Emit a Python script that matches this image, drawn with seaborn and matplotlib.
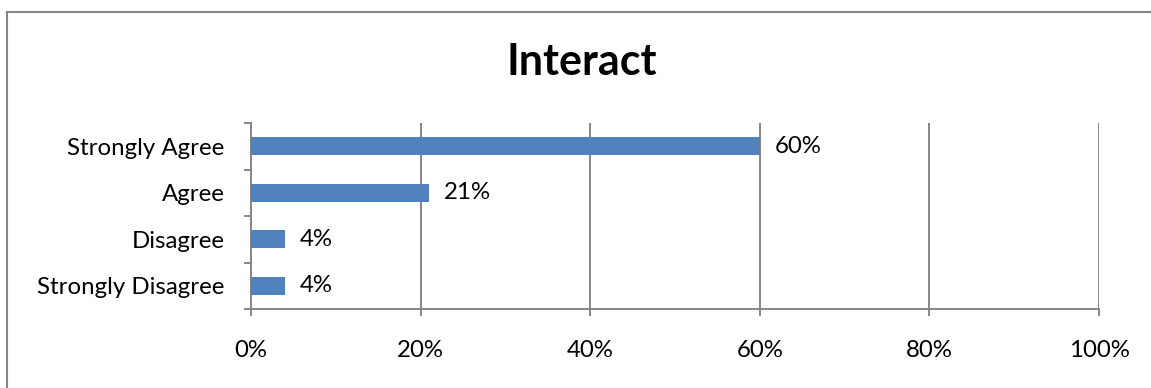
import matplotlib
matplotlib.use("Agg")
import matplotlib.pyplot as plt
import matplotlib.patches as mpatches
from matplotlib.ticker import FixedLocator, PercentFormatter
import seaborn as sns
import pandas as pd

categories = ["Strongly Agree", "Agree", "Disagree", "Strongly Disagree"]
values = [60, 21, 4, 4]
value_labels = ["60%", "21%", "4%", "4%"]
x_ticks = [0, 20, 40, 60, 80, 100]
title = "Interact"

sns.set_theme(style="white")
plt.rcParams["font.family"] = ["Lato", "DejaVu Sans"]

W, H = 1151, 388
fig = plt.figure(figsize=(W / 100, H / 100), dpi=100)
ax = fig.add_axes([251 / W, 1 - 309 / H, (1099 - 251) / W, (309 - 123) / H])

df = pd.DataFrame({"category": categories, "value": values})
sns.barplot(data=df, x="value", y="category", orient="h", color="#4F81BD",
            saturation=1, width=0.39, ax=ax, zorder=3, linewidth=0)

grey = "#868686"
ax.set_xlim(0, 100)
ax.set_ylim(3.5, -0.5)
ax.xaxis.set_major_locator(FixedLocator(x_ticks))
ax.xaxis.set_major_formatter(PercentFormatter(decimals=0))
ax.grid(axis="x", color=grey, linewidth=1.4, zorder=0)
ax.grid(axis="y", visible=False)
for s in ["top", "right"]:
    ax.spines[s].set_visible(False)
for s in ["left", "bottom"]:
    ax.spines[s].set_color(grey)
    ax.spines[s].set_linewidth(1.4)

fs = 17.3
ax.set_xlabel("")
ax.set_ylabel("")
ax.tick_params(axis="x", which="major", direction="out", length=5, width=1.4,
               color=grey, pad=17, labelsize=fs, labelcolor="black", bottom=True)
ax.tick_params(axis="y", which="major", length=0, pad=19, labelsize=fs,
               labelcolor="black")
ax.yaxis.set_minor_locator(FixedLocator([-0.5, 0.5, 1.5, 2.5, 3.5]))
ax.tick_params(axis="y", which="minor", direction="out", length=5, width=1.4,
               color=grey, left=True)

ax.bar_label(ax.containers[0], labels=value_labels, padding=11, fontsize=fs,
             color="black")

fig.text(0.505, 1 - 62 / H, title, ha="center", va="center",
         fontsize=31, fontweight="bold", color="black")

fig.patches.append(mpatches.Rectangle((7 / W, -0.1), 1.2, 1 - 12 / H + 0.1,
                                      transform=fig.transFigure, fill=False,
                                      edgecolor=grey, linewidth=1.5))

fig.savefig("out.png", dpi=100)
